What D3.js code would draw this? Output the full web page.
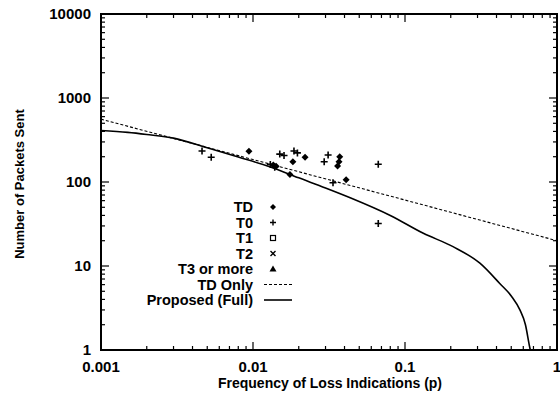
<!DOCTYPE html>
<html><head><meta charset="utf-8">
<script src="https://cdn.jsdelivr.net/npm/d3@7"></script>
<style>body{margin:0;background:#fff}text{font-family:"Liberation Sans",Arial,sans-serif;fill:#000}</style>
</head><body><svg id="c" width="560" height="395"></svg>
<script>
// Data
const tdPoints = [[0.0094,232],[0.0183,174],[0.0220,197],[0.0372,200],[0.0368,174],[0.0360,155],[0.041,106],[0.0136,159],[0.0142,154],[0.0175,123]];
const t0Points = [[0.00462,234],[0.00531,197],[0.0150,215],[0.0160,207],[0.0186,234],[0.0196,222],[0.0312,210],[0.0294,174],[0.0336,98],[0.0667,163],[0.0667,32],[0.0130,162],[0.0139,150]];
const tdOnly = [[0.001,560],[0.01,185],[0.1,61],[1,20]];
const proposedFull = [[0.001,410],[0.0015,390],[0.002,368],[0.003,333],[0.005,255],[0.008,198],[0.0129,152],[0.02,112],[0.03,85],[0.0436,65],[0.08,40],[0.132,24.5],[0.207,17],[0.311,10.8],[0.42,6.2],[0.5,4.4],[0.57,3.0],[0.62,2.0],[0.66,1.1],[0.68,0.85]];
const xTicks = [0.001,0.01,0.1,1];
const xTickLabels = ["0.001","0.01","0.1","1"];
const yTicks = [1,10,100,1000,10000];
const yTickLabels = ["1","10","100","1000","10000"];
const legendLabels = ["TD","T0","T1","T2","T3 or more","TD Only","Proposed (Full)"];

const svg = d3.select("#c");
const L=101,R=557,T=14,B=350;
const x = d3.scaleLog().domain([0.001,1]).range([L,R]);
const y = d3.scaleLog().domain([1,10000]).range([B,T]);

svg.append("clipPath").attr("id","cp").append("rect").attr("x",L).attr("y",T).attr("width",R-L).attr("height",B-T);

// minor ticks
const xMinor=[], yMinor=[];
for(let d=-3; d<0; d++) for(let k=2;k<=9;k++) xMinor.push(k*Math.pow(10,d));
for(let d=0; d<4; d++) for(let k=2;k<=9;k++) yMinor.push(k*Math.pow(10,d));

const tk = svg.append("g").attr("stroke","#000").attr("stroke-width",1.2);
xMinor.forEach(v=>{ tk.append("line").attr("x1",x(v)).attr("x2",x(v)).attr("y1",B).attr("y2",B-4);
  tk.append("line").attr("x1",x(v)).attr("x2",x(v)).attr("y1",T).attr("y2",T+4);});
xTicks.forEach(v=>{ tk.append("line").attr("x1",x(v)).attr("x2",x(v)).attr("y1",B).attr("y2",B-8);
  tk.append("line").attr("x1",x(v)).attr("x2",x(v)).attr("y1",T).attr("y2",T+8);});
yMinor.forEach(v=>{ tk.append("line").attr("y1",y(v)).attr("y2",y(v)).attr("x1",L).attr("x2",L+4);
  tk.append("line").attr("y1",y(v)).attr("y2",y(v)).attr("x1",R).attr("x2",R-4);});
yTicks.forEach(v=>{ tk.append("line").attr("y1",y(v)).attr("y2",y(v)).attr("x1",L).attr("x2",L+8);
  tk.append("line").attr("y1",y(v)).attr("y2",y(v)).attr("x1",R).attr("x2",R-8);});

svg.append("rect").attr("x",L).attr("y",T).attr("width",R-L).attr("height",B-T)
  .attr("fill","none").attr("stroke","#000").attr("stroke-width",2);

// tick labels
xTicks.forEach((v,i)=>svg.append("text").attr("x",x(v)).attr("y",372).attr("text-anchor","middle")
  .attr("font-size",15).attr("font-weight","bold").text(xTickLabels[i]));
yTicks.forEach((v,i)=>svg.append("text").attr("x",91).attr("y",y(v)+5).attr("text-anchor","end")
  .attr("font-size",15).attr("font-weight","bold").text(yTickLabels[i]));

svg.append("text").attr("x",330).attr("y",388).attr("text-anchor","middle").attr("font-size",14).attr("font-weight","bold").text("Frequency of Loss Indications (p)");
svg.append("text").attr("transform","translate(24,184) rotate(-90)").attr("text-anchor","middle").attr("font-size",13).attr("font-weight","bold").text("Number of Packets Sent");

// lines
const line = d3.line().x(d=>x(d[0])).y(d=>y(d[1]));
const pg = svg.append("g").attr("clip-path","url(#cp)");
pg.append("path").attr("d",line(tdOnly)).attr("fill","none").attr("stroke","#000").attr("stroke-width",1.1).attr("stroke-dasharray","3,2");
pg.append("path").attr("d",line.curve(d3.curveMonotoneX)(proposedFull)).attr("fill","none").attr("stroke","#000").attr("stroke-width",1.6);

const diamond = (cx,cy,s)=>`M${cx},${cy-s}L${cx+s},${cy}L${cx},${cy+s}L${cx-s},${cy}Z`;
const plus = (cx,cy,s)=>`M${cx-s},${cy}H${cx+s}M${cx},${cy-s}V${cy+s}`;
pg.selectAll(".td").data(tdPoints).join("path").attr("d",d=>diamond(x(d[0]),y(d[1]),3.5)).attr("fill","#000");
pg.selectAll(".t0").data(t0Points).join("path").attr("d",d=>plus(x(d[0]),y(d[1]),3.5)).attr("fill","none").attr("stroke","#000").attr("stroke-width",1.6);

// legend
const lg = svg.append("g");
const ly0 = 207, ldy = 15.5, lx = 253, sx = 273;
legendLabels.forEach((t,i)=>{
  const yy = ly0+i*ldy;
  lg.append("text").attr("x",lx).attr("y",yy+5).attr("text-anchor","end").attr("font-size",14.5).attr("font-weight","bold").text(t);
  if(i===0) lg.append("path").attr("d",diamond(sx,yy,3)).attr("fill","#000");
  if(i===1) lg.append("path").attr("d",plus(sx,yy,3)).attr("stroke","#000").attr("stroke-width",1.4);
  if(i===2) lg.append("rect").attr("x",sx-2.5).attr("y",yy-2.5).attr("width",5).attr("height",5).attr("fill","none").attr("stroke","#000").attr("stroke-width",1.2);
  if(i===3) lg.append("path").attr("d",`M${sx-2.5},${yy-2.5}L${sx+2.5},${yy+2.5}M${sx+2.5},${yy-2.5}L${sx-2.5},${yy+2.5}`).attr("stroke","#000").attr("stroke-width",1.4);
  if(i===4) lg.append("path").attr("d",`M${sx},${yy-3.5}L${sx+3.5},${yy+2.5}L${sx-3.5},${yy+2.5}Z`).attr("fill","#000");
  if(i===5) lg.append("line").attr("x1",264).attr("x2",292).attr("y1",yy).attr("y2",yy).attr("stroke","#000").attr("stroke-width",1.1).attr("stroke-dasharray","3,2");
  if(i===6) lg.append("line").attr("x1",264).attr("x2",292).attr("y1",yy).attr("y2",yy).attr("stroke","#000").attr("stroke-width",1.6);
});
</script></body></html>
